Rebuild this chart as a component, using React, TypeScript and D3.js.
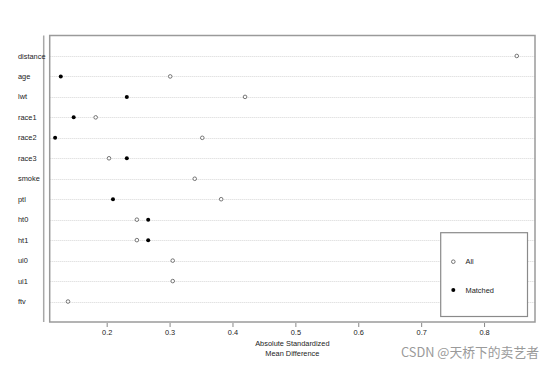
import React, { useEffect, useRef } from 'react';
import * as d3 from 'd3';

const covariates = ['distance', 'age', 'lwt', 'race1', 'race2', 'race3', 'smoke', 'ptl', 'ht0', 'ht1', 'ui0', 'ui1', 'ftv'];
const allValues = [0.852, 0.301, 0.42, 0.1825, 0.352, 0.2037, 0.34, 0.382, 0.248, 0.248, 0.305, 0.305, 0.1385];
const matchedValues: (number | null)[] = [null, 0.127, 0.232, 0.1475, 0.118, 0.232, null, 0.21, 0.266, 0.266, null, null, null];
const xTicks = [0.2, 0.3, 0.4, 0.5, 0.6, 0.7, 0.8];

const App: React.FC = () => {
  const svgRef = useRef<SVGSVGElement>(null);

  useEffect(() => {
    if (!svgRef.current) return;
    const svg = d3.select(svgRef.current);
    svg.selectAll('*').remove();

    const box = { left: 49.7, top: 35.5, right: 535, bottom: 322 };
    const font = 'Liberation Sans, Arial, sans-serif';

    const x = d3.scaleLinear().domain([0.1094, 0.881]).range([box.left, box.right]);
    const y = d3.scaleLinear().domain([0, covariates.length + 1]).range([box.top, box.bottom]);

    // row guide lines (dotted)
    svg.append('g')
      .selectAll('line')
      .data(covariates)
      .enter()
      .append('line')
      .attr('x1', box.left)
      .attr('x2', box.right)
      .attr('y1', (_, i) => Math.round(y(i + 1)) + 0.5)
      .attr('y2', (_, i) => Math.round(y(i + 1)) + 0.5)
      .attr('stroke', '#d6d6d6')
      .attr('stroke-width', 1)
      .attr('stroke-dasharray', '1,1');

    // plot frame
    svg.append('rect')
      .attr('x', box.left)
      .attr('y', box.top)
      .attr('width', box.right - box.left)
      .attr('height', box.bottom - box.top)
      .attr('fill', 'none')
      .attr('stroke', '#9a9a9a')
      .attr('stroke-width', 1.5);

    // left axis line
    svg.append('line')
      .attr('x1', 43.7).attr('x2', 43.7)
      .attr('y1', box.top).attr('y2', box.bottom)
      .attr('stroke', '#a8a8a8')
      .attr('stroke-width', 1.5);

    // row labels
    svg.append('g')
      .selectAll('text')
      .data(covariates)
      .enter()
      .append('text')
      .attr('x', 18)
      .attr('y', (_, i) => y(i + 1) + 2.6)
      .attr('font-family', font)
      .attr('font-size', '7.4px')
      .attr('fill', '#222')
      .text(d => d);

    // x axis
    const axis = d3.axisBottom(x).tickValues(xTicks).tickSize(4).tickPadding(3).tickFormat(d3.format('.1f'));
    const ax = svg.append('g').attr('transform', `translate(0,${box.bottom + 1})`).call(axis);
    ax.select('.domain').remove();
    ax.selectAll('line').attr('stroke', '#888');
    ax.selectAll('text').attr('font-family', font).attr('font-size', '7.4px').attr('fill', '#222');

    const cx = (box.left + box.right) / 2;
    svg.append('text')
      .attr('x', cx).attr('y', 346)
      .attr('text-anchor', 'middle')
      .attr('font-family', font).attr('font-size', '7.4px').attr('fill', '#222')
      .text('Absolute Standardized');
    svg.append('text')
      .attr('x', cx).attr('y', 355.5)
      .attr('text-anchor', 'middle')
      .attr('font-family', font).attr('font-size', '7.4px').attr('fill', '#222')
      .text('Mean Difference');

    // all points (open)
    svg.append('g')
      .selectAll('circle')
      .data(allValues)
      .enter()
      .append('circle')
      .attr('cx', d => x(d))
      .attr('cy', (_, i) => y(i + 1))
      .attr('r', 1.8)
      .attr('fill', 'white')
      .attr('stroke', '#555')
      .attr('stroke-width', 0.8);

    // matched points (filled)
    svg.append('g')
      .selectAll('circle')
      .data(matchedValues.map((v, i) => ({ v, i })).filter(d => d.v !== null))
      .enter()
      .append('circle')
      .attr('cx', d => x(d.v as number))
      .attr('cy', d => y(d.i + 1))
      .attr('r', 2)
      .attr('fill', '#000');

    // legend
    const lg = svg.append('g');
    lg.append('rect')
      .attr('x', 440.7).attr('y', 232.7)
      .attr('width', 86.8).attr('height', 83.8)
      .attr('fill', 'white')
      .attr('stroke', '#8a8a8a')
      .attr('stroke-width', 1.2);
    lg.append('circle').attr('cx', 453.3).attr('cy', 261.7).attr('r', 1.8)
      .attr('fill', 'white').attr('stroke', '#555').attr('stroke-width', 0.8);
    lg.append('circle').attr('cx', 453.3).attr('cy', 290).attr('r', 2).attr('fill', '#000');
    lg.append('text').attr('x', 465.5).attr('y', 264.3)
      .attr('font-family', font).attr('font-size', '7.4px').attr('fill', '#222').text('All');
    lg.append('text').attr('x', 465.5).attr('y', 292.6)
      .attr('font-family', font).attr('font-size', '7.4px').attr('fill', '#222').text('Matched');

    // watermark
    svg.append('text')
      .attr('x', 539).attr('y', 356.5)
      .attr('text-anchor', 'end')
      .attr('font-family', 'Noto Sans CJK SC, sans-serif')
      .attr('font-size', '12.8px')
      .attr('fill', '#9a9a9a')
      .text('CSDN @天桥下的卖艺者');
  }, []);

  return (
    <svg ref={svgRef} width={554} height={367}
      style={{ position: 'absolute', left: 0, top: 0, background: 'white' }} />
  );
};

export default App;
